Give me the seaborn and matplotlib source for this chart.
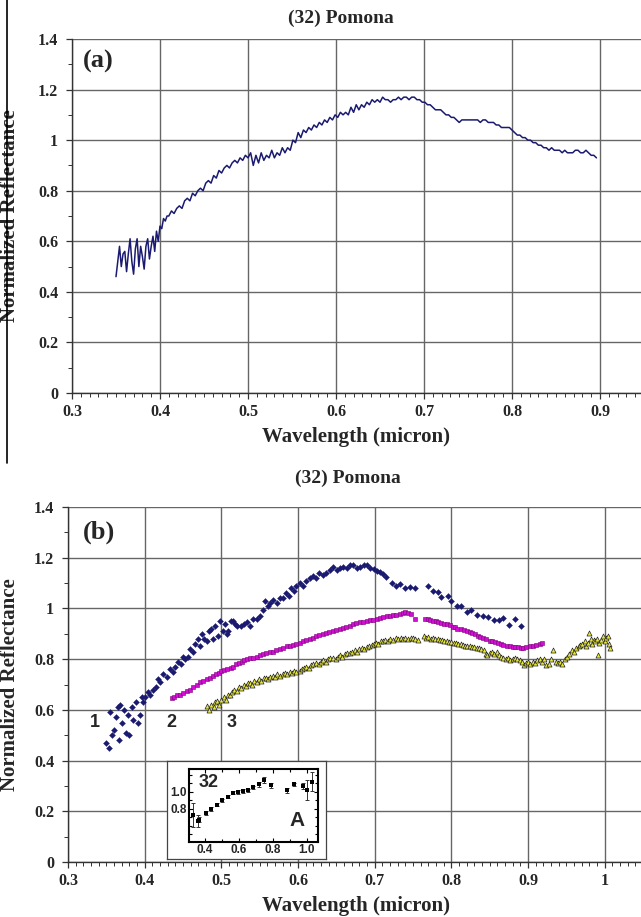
import numpy as np
import pandas as pd
import matplotlib
matplotlib.use("Agg")
import matplotlib.pyplot as plt
import seaborn as sns
from matplotlib.ticker import MultipleLocator, FuncFormatter
from matplotlib.lines import Line2D

# ---------------- data ----------------
title = "(32) Pomona"
xlabel = "Wavelength (micron)"
ylabel = "Normalized Reflectance"

top_wl = [0.350, 0.352, 0.354, 0.356, 0.358, 0.360, 0.362, 0.364, 0.366, 0.368, 0.370, 0.372, 0.374, 0.376,
          0.378, 0.380, 0.382, 0.384, 0.386, 0.388, 0.390, 0.392, 0.394, 0.396, 0.398, 0.400, 0.402, 0.404,
          0.406, 0.408, 0.410, 0.413, 0.416, 0.419, 0.422, 0.425, 0.428, 0.431, 0.434, 0.437, 0.440, 0.443,
          0.446, 0.449, 0.452, 0.455, 0.458, 0.461, 0.464, 0.467, 0.470, 0.473, 0.476, 0.479, 0.482, 0.485,
          0.488, 0.491, 0.494, 0.497, 0.500, 0.503, 0.506, 0.509, 0.512, 0.515, 0.518, 0.521, 0.524, 0.527,
          0.530, 0.533, 0.536, 0.539, 0.542, 0.545, 0.548, 0.551, 0.554, 0.557, 0.560, 0.563, 0.566, 0.569,
          0.572, 0.575, 0.578, 0.581, 0.584, 0.587, 0.590, 0.593, 0.596, 0.599, 0.602, 0.605, 0.608, 0.611,
          0.614, 0.617, 0.620, 0.623, 0.626, 0.629, 0.632, 0.635, 0.638, 0.641, 0.644, 0.647, 0.650, 0.653,
          0.656, 0.659, 0.662, 0.665, 0.668, 0.671, 0.674, 0.677, 0.680, 0.683, 0.686, 0.689, 0.692, 0.695,
          0.698, 0.701, 0.704, 0.707, 0.710, 0.713, 0.716, 0.719, 0.722, 0.725, 0.728, 0.731, 0.734, 0.737,
          0.740, 0.743, 0.746, 0.749, 0.752, 0.755, 0.758, 0.761, 0.764, 0.767, 0.770, 0.773, 0.776, 0.779,
          0.782, 0.785, 0.788, 0.791, 0.794, 0.797, 0.800, 0.803, 0.806, 0.809, 0.812, 0.815, 0.818, 0.821,
          0.824, 0.827, 0.830, 0.833, 0.836, 0.839, 0.842, 0.845, 0.848, 0.851, 0.854, 0.857, 0.860, 0.863,
          0.866, 0.869, 0.872, 0.875, 0.878, 0.881, 0.884, 0.887, 0.890, 0.893, 0.896]
top_refl = [0.46, 0.52, 0.58, 0.50, 0.55, 0.56, 0.48, 0.55, 0.61, 0.52, 0.47, 0.57, 0.61, 0.50,
            0.58, 0.54, 0.49, 0.58, 0.61, 0.53, 0.58, 0.62, 0.56, 0.64, 0.60, 0.66, 0.65, 0.69,
            0.68, 0.70, 0.70, 0.72, 0.71, 0.73, 0.74, 0.73, 0.76, 0.77, 0.76, 0.79, 0.78, 0.80,
            0.81, 0.80, 0.83, 0.84, 0.83, 0.86, 0.85, 0.88, 0.87, 0.89, 0.90, 0.89, 0.91, 0.92,
            0.91, 0.93, 0.92, 0.94, 0.93, 0.95, 0.90, 0.94, 0.91, 0.95, 0.92, 0.94, 0.93, 0.96,
            0.93, 0.95, 0.94, 0.97, 0.95, 0.97, 0.96, 1.00, 0.99, 1.03, 1.01, 1.04, 1.03, 1.05,
            1.04, 1.06, 1.05, 1.07, 1.06, 1.08, 1.07, 1.09, 1.08, 1.10, 1.09, 1.11, 1.10, 1.11,
            1.10, 1.13, 1.11, 1.14, 1.12, 1.14, 1.13, 1.15, 1.14, 1.16, 1.15, 1.16, 1.15, 1.17,
            1.16, 1.16, 1.15, 1.16, 1.16, 1.17, 1.16, 1.17, 1.17, 1.16, 1.17, 1.17, 1.16, 1.16,
            1.15, 1.15, 1.14, 1.14, 1.13, 1.12, 1.12, 1.12, 1.11, 1.10, 1.10, 1.09, 1.09, 1.08,
            1.07, 1.08, 1.08, 1.08, 1.08, 1.08, 1.08, 1.08, 1.07, 1.08, 1.08, 1.07, 1.07, 1.07,
            1.06, 1.06, 1.05, 1.05, 1.05, 1.05, 1.04, 1.03, 1.02, 1.02, 1.01, 1.01, 1.00, 1.00,
            0.99, 0.99, 0.98, 0.98, 0.97, 0.97, 0.96, 0.97, 0.96, 0.96, 0.96, 0.95, 0.96, 0.95,
            0.95, 0.95, 0.96, 0.96, 0.95, 0.95, 0.96, 0.95, 0.94, 0.94, 0.93]

s1_wl = [0.350, 0.353, 0.355, 0.357, 0.360, 0.362, 0.365, 0.367, 0.368, 0.370, 0.373, 0.375, 0.378, 0.380,
         0.383, 0.385, 0.389, 0.391, 0.394, 0.396, 0.398, 0.400, 0.404, 0.407, 0.411, 0.415, 0.418, 0.420,
         0.424, 0.429, 0.433, 0.437, 0.440, 0.443, 0.447, 0.450, 0.453, 0.456, 0.459, 0.463, 0.466, 0.469,
         0.472, 0.475, 0.478, 0.481, 0.484, 0.487, 0.489, 0.492, 0.496, 0.498, 0.502, 0.505, 0.507, 0.509,
         0.512, 0.515, 0.518, 0.521, 0.525, 0.529, 0.533, 0.537, 0.541, 0.546, 0.550, 0.554, 0.557, 0.561,
         0.564, 0.568, 0.572, 0.576, 0.580, 0.584, 0.588, 0.591, 0.595, 0.598, 0.602, 0.606, 0.610, 0.615,
         0.620, 0.624, 0.628, 0.633, 0.637, 0.642, 0.646, 0.651, 0.655, 0.659, 0.664, 0.668, 0.672, 0.677,
         0.681, 0.686, 0.690, 0.694, 0.699, 0.703, 0.707, 0.711, 0.715, 0.722, 0.728, 0.733, 0.739, 0.746,
         0.752, 0.769, 0.776, 0.782, 0.787, 0.795, 0.800, 0.807, 0.813, 0.820, 0.826, 0.833, 0.841, 0.848,
         0.855, 0.862, 0.868, 0.875, 0.883, 0.891]
s1_refl = [0.47, 0.45, 0.59, 0.50, 0.52, 0.57, 0.61, 0.48, 0.62, 0.55, 0.60, 0.51, 0.58, 0.50,
           0.61, 0.56, 0.63, 0.55, 0.58, 0.65, 0.63, 0.65, 0.67, 0.66, 0.68, 0.69, 0.72, 0.71,
           0.74, 0.73, 0.76, 0.75, 0.77, 0.79, 0.78, 0.81, 0.80, 0.81, 0.84, 0.83, 0.86, 0.88,
           0.85, 0.90, 0.88, 0.87, 0.91, 0.92, 0.88, 0.93, 0.89, 0.95, 0.91, 0.94, 0.90, 0.91,
           0.95, 0.95, 0.94, 0.93, 0.93, 0.94, 0.945, 0.93, 0.96, 0.957, 0.97, 0.995, 1.03, 1.01,
           1.02, 1.035, 1.02, 1.04, 1.04, 1.06, 1.05, 1.08, 1.07, 1.09, 1.10, 1.09, 1.11, 1.12,
           1.127, 1.12, 1.14, 1.13, 1.14, 1.15, 1.165, 1.15, 1.16, 1.165, 1.16, 1.17, 1.17, 1.16,
           1.165, 1.17, 1.17, 1.16, 1.155, 1.147, 1.143, 1.134, 1.125, 1.10, 1.088, 1.095, 1.08, 1.083,
           1.08, 1.087, 1.067, 1.063, 1.047, 1.05, 1.03, 1.01, 1.01, 0.985, 0.995, 0.975, 0.97, 0.967,
           0.953, 0.953, 0.963, 0.935, 0.957, 0.932]

s2_wl = [0.435, 0.438, 0.442, 0.446, 0.450, 0.455, 0.459, 0.463, 0.468, 0.472, 0.476, 0.481, 0.485, 0.489,
         0.493, 0.497, 0.500, 0.504, 0.508, 0.512, 0.515, 0.519, 0.523, 0.527, 0.530, 0.533, 0.537, 0.541,
         0.546, 0.550, 0.554, 0.558, 0.563, 0.567, 0.571, 0.576, 0.580, 0.585, 0.589, 0.593, 0.598, 0.602,
         0.607, 0.611, 0.615, 0.620, 0.624, 0.628, 0.633, 0.637, 0.641, 0.646, 0.650, 0.655, 0.659, 0.663,
         0.668, 0.672, 0.676, 0.681, 0.685, 0.690, 0.694, 0.698, 0.703, 0.707, 0.711, 0.716, 0.720, 0.724,
         0.728, 0.733, 0.737, 0.740, 0.744, 0.748, 0.752, 0.765, 0.769, 0.772, 0.776, 0.780, 0.783, 0.787,
         0.791, 0.794, 0.798, 0.802, 0.805, 0.808, 0.812, 0.816, 0.820, 0.824, 0.827, 0.831, 0.835, 0.838,
         0.841, 0.845, 0.850, 0.853, 0.857, 0.861, 0.865, 0.868, 0.872, 0.876, 0.880, 0.883, 0.887, 0.891,
         0.894, 0.898, 0.903, 0.907, 0.911, 0.915, 0.918]
s2_refl = [0.646, 0.650, 0.660, 0.660, 0.665, 0.673, 0.680, 0.690, 0.700, 0.710, 0.715, 0.720, 0.727, 0.735,
           0.740, 0.745, 0.752, 0.757, 0.760, 0.765, 0.770, 0.780, 0.785, 0.790, 0.795, 0.800, 0.803, 0.806,
           0.810, 0.815, 0.820, 0.823, 0.827, 0.830, 0.835, 0.840, 0.845, 0.850, 0.853, 0.857, 0.861, 0.865,
           0.870, 0.875, 0.880, 0.885, 0.890, 0.895, 0.900, 0.905, 0.908, 0.911, 0.914, 0.917, 0.922, 0.927,
           0.932, 0.937, 0.941, 0.945, 0.948, 0.950, 0.953, 0.956, 0.960, 0.963, 0.966, 0.969, 0.970, 0.973,
           0.976, 0.980, 0.983, 0.985, 0.983, 0.978, 0.960, 0.960, 0.957, 0.955, 0.952, 0.950, 0.947, 0.944,
           0.940, 0.937, 0.933, 0.928, 0.925, 0.920, 0.917, 0.913, 0.910, 0.906, 0.903, 0.900, 0.893, 0.888,
           0.885, 0.880, 0.873, 0.870, 0.867, 0.865, 0.860, 0.857, 0.853, 0.850, 0.848, 0.847, 0.846, 0.845,
           0.845, 0.847, 0.850, 0.853, 0.857, 0.861, 0.865]

s3_wl = [0.481, 0.484, 0.487, 0.490, 0.492, 0.494, 0.497, 0.500, 0.503, 0.506, 0.509, 0.511, 0.514, 0.517,
         0.520, 0.523, 0.526, 0.529, 0.532, 0.535, 0.537, 0.540, 0.543, 0.546, 0.549, 0.552, 0.555, 0.558,
         0.561, 0.564, 0.567, 0.570, 0.573, 0.576, 0.580, 0.583, 0.586, 0.589, 0.592, 0.595, 0.598, 0.602,
         0.605, 0.608, 0.611, 0.614, 0.617, 0.620, 0.624, 0.627, 0.630, 0.633, 0.636, 0.639, 0.642, 0.646,
         0.649, 0.652, 0.655, 0.658, 0.661, 0.664, 0.668, 0.671, 0.674, 0.677, 0.680, 0.683, 0.686, 0.690,
         0.693, 0.696, 0.699, 0.702, 0.705, 0.708, 0.711, 0.714, 0.717, 0.720, 0.724, 0.728, 0.731, 0.734,
         0.737, 0.740, 0.744, 0.747, 0.750, 0.753, 0.757, 0.764, 0.767, 0.770, 0.773, 0.776, 0.779, 0.782,
         0.785, 0.788, 0.791, 0.794, 0.797, 0.800, 0.803, 0.806, 0.809, 0.812, 0.815, 0.818, 0.821, 0.824,
         0.827, 0.830, 0.833, 0.836, 0.839, 0.842, 0.845, 0.847, 0.850, 0.853, 0.856, 0.859, 0.862, 0.865,
         0.868, 0.871, 0.874, 0.877, 0.880, 0.883, 0.886, 0.889, 0.892, 0.895, 0.897, 0.900, 0.903, 0.906,
         0.909, 0.912, 0.915, 0.918, 0.921, 0.924, 0.927, 0.930, 0.933, 0.936, 0.939, 0.942, 0.945, 0.948,
         0.951, 0.954, 0.957, 0.960, 0.963, 0.966, 0.968, 0.971, 0.974, 0.976, 0.978, 0.980, 0.982, 0.984,
         0.986, 0.988, 0.990, 0.991, 0.993, 0.995, 0.998, 1.000, 1.002, 1.004, 1.006, 1.007]
s3_refl = [0.614, 0.600, 0.620, 0.610, 0.630, 0.633, 0.620, 0.640, 0.650, 0.640, 0.660, 0.660, 0.670, 0.680,
           0.675, 0.690, 0.685, 0.700, 0.695, 0.705, 0.707, 0.700, 0.715, 0.710, 0.720, 0.715, 0.725, 0.727,
           0.720, 0.730, 0.735, 0.730, 0.740, 0.735, 0.740, 0.745, 0.740, 0.750, 0.745, 0.755, 0.750, 0.752,
           0.760, 0.765, 0.770, 0.765, 0.775, 0.780, 0.785, 0.780, 0.790, 0.795, 0.790, 0.800, 0.805, 0.806,
           0.800, 0.810, 0.815, 0.810, 0.820, 0.825, 0.826, 0.830, 0.835, 0.830, 0.840, 0.845, 0.840, 0.846,
           0.850, 0.855, 0.860, 0.865, 0.860, 0.870, 0.870, 0.875, 0.870, 0.880, 0.875, 0.885, 0.880, 0.885,
           0.880, 0.885, 0.880, 0.885, 0.885, 0.880, 0.875, 0.890, 0.885, 0.888, 0.880, 0.885, 0.880, 0.878,
           0.877, 0.875, 0.870, 0.872, 0.868, 0.867, 0.865, 0.862, 0.860, 0.860, 0.855, 0.853, 0.850, 0.852,
           0.848, 0.847, 0.845, 0.845, 0.840, 0.835, 0.820, 0.815, 0.825, 0.830, 0.822, 0.830, 0.815, 0.810,
           0.805, 0.800, 0.805, 0.795, 0.800, 0.805, 0.800, 0.795, 0.790, 0.775, 0.785, 0.790, 0.780, 0.790,
           0.785, 0.795, 0.800, 0.790, 0.800, 0.775, 0.780, 0.800, 0.838, 0.790, 0.785, 0.790, 0.780, 0.800,
           0.810, 0.820, 0.837, 0.830, 0.845, 0.850, 0.857, 0.860, 0.870, 0.850, 0.865, 0.905, 0.880, 0.860,
           0.877, 0.870, 0.880, 0.818, 0.865, 0.875, 0.890, 0.870, 0.885, 0.890, 0.860, 0.845]

curve_labels = ["1", "2", "3"]
curve_label_x = [0.335, 0.435, 0.513]
curve_label_y = [0.55, 0.55, 0.55]

inset_wl = [0.331, 0.357, 0.366, 0.404, 0.435, 0.469, 0.498, 0.533, 0.563, 0.592, 0.626, 0.655, 0.684,
            0.716, 0.747, 0.786, 0.880, 0.924, 0.975, 1.002, 1.030]
inset_refl = [0.73, 0.66, 0.67, 0.75, 0.80, 0.85, 0.90, 0.945, 0.99, 1.00, 1.01, 1.02, 1.055,
              1.09, 1.14, 1.08, 1.02, 1.09, 1.07, 1.02, 1.12]
inset_err = [0.14, 0.07, 0.03, 0.02, 0.02, 0.02, 0.02, 0.02, 0.02, 0.02, 0.02, 0.02, 0.02,
             0.03, 0.03, 0.03, 0.03, 0.02, 0.03, 0.12, 0.11]

# ---------------- style ----------------
sns.set_theme(style="white")
plt.rcParams["font.family"] = ["Liberation Serif", "DejaVu Serif"]
plt.rcParams["font.weight"] = "bold"
SANS = ["Liberation Sans", "DejaVu Sans"]

NAVY = "#1a1a70"
MAGENTA = "#d010d0"
YELLOW = "#e8e83a"
GRID = "#666666"

W, H = 641, 917
fig = plt.figure(figsize=(W / 100, H / 100), dpi=100)
fig.patch.set_facecolor("white")


def fmt(v, pos):
    return f"{round(v, 2):g}"


def style_axes(ax, xmax):
    ax.set_xlim(0.3, xmax)
    ax.set_ylim(0, 1.4)
    ax.xaxis.set_major_locator(MultipleLocator(0.1))
    ax.xaxis.set_minor_locator(MultipleLocator(0.01))
    ax.yaxis.set_major_locator(MultipleLocator(0.2))
    ax.yaxis.set_minor_locator(MultipleLocator(0.1))
    ax.xaxis.set_major_formatter(FuncFormatter(fmt))
    ax.yaxis.set_major_formatter(FuncFormatter(fmt))
    ax.grid(True, which="major", color=GRID, lw=1.0)
    ax.grid(False, which="minor")
    ax.set_axisbelow(True)
    for s in ["top", "right"]:
        ax.spines[s].set_visible(False)
    for s in ["left", "bottom"]:
        ax.spines[s].set_color("#333333")
        ax.spines[s].set_linewidth(1.0)
    ax.tick_params(which="major", direction="out", length=4, width=0.9, color="#333333",
                   labelsize=11.5)
    ax.tick_params(axis="y", which="major", pad=6)
    ax.tick_params(axis="x", which="major", pad=4)
    ax.tick_params(which="minor", direction="out", length=3, width=0.7, color="#333333")
    ax.tick_params(axis="both", which="both", bottom=True, left=True)
    for lab in ax.get_xticklabels() + ax.get_yticklabels():
        lab.set_fontweight("bold")
    ax.set_xlabel(xlabel, fontsize=15, fontweight="bold", labelpad=5)
    ax.set_ylabel(ylabel, fontsize=15, fontweight="bold")
    ax.set_facecolor("white")


# ---------------- panel (a) ----------------
ax1 = fig.add_axes([72 / W, 1 - 393 / H, 569 / W, 354 / H])
df_top = pd.DataFrame({"wl": top_wl, "refl": top_refl})
sns.lineplot(data=df_top, x="wl", y="refl", ax=ax1, color=NAVY, lw=1.1,
             sort=False, estimator=None)
style_axes(ax1, 0.9466)
ax1.yaxis.set_label_coords(-(72 - 20) / 569, 0.5)
ax1.text(0.33, 1.31, "(a)", fontsize=19, fontweight="bold", ha="center", va="center")
fig.text(341 / W, 1 - 18 / H, title, fontsize=14, fontweight="bold", ha="center", va="center")

# left border line of panel (a)
fig.add_artist(Line2D([7 / W, 7 / W], [1.0, 1 - 463 / H], color="black", lw=1.2,
                      transform=fig.transFigure))

# ---------------- panel (b) ----------------
ax2 = fig.add_axes([68 / W, 1 - 862 / H, 575 / W, 355 / H])
df1 = pd.DataFrame({"wl": s1_wl, "refl": s1_refl})
df2 = pd.DataFrame({"wl": s2_wl, "refl": s2_refl})
df3 = pd.DataFrame({"wl": s3_wl, "refl": s3_refl})
sns.scatterplot(data=df3, x="wl", y="refl", ax=ax2, marker="^", s=13, color=YELLOW,
                edgecolor="#222222", linewidth=0.5, zorder=3)
sns.scatterplot(data=df2, x="wl", y="refl", ax=ax2, marker="s", s=6, color=MAGENTA,
                edgecolor="#7a007a", linewidth=0.4, zorder=4)
sns.scatterplot(data=df1, x="wl", y="refl", ax=ax2, marker="D", s=9, color=NAVY,
                edgecolor=NAVY, linewidth=0.3, zorder=5)
style_axes(ax2, 1.05)
ax2.yaxis.set_label_coords(-(68 - 20) / 575, 0.5)
ax2.text(0.34, 1.30, "(b)", fontsize=19, fontweight="bold", ha="center", va="center")
for lab, lx, ly in zip(curve_labels, curve_label_x, curve_label_y):
    ax2.text(lx, ly, lab, fontsize=13, fontweight="bold", ha="center", va="center", family=SANS)
fig.text(348 / W, 1 - 478 / H, title, fontsize=14, fontweight="bold", ha="center", va="center")

# ---------------- inset ----------------
box = fig.add_axes([167 / W, 1 - 859 / H, 159 / W, 98 / H])
box.set_xticks([])
box.set_yticks([])
box.set_facecolor("white")
for s in box.spines.values():
    s.set_color("#444444")
    s.set_linewidth(0.9)

axi = fig.add_axes([189 / W, 1 - 842 / H, 129 / W, 73 / H])
axi.set_facecolor("white")
axi.errorbar(inset_wl, inset_refl, yerr=inset_err, fmt="none", ecolor="#333333",
             elinewidth=0.7, capsize=1.5, capthick=0.7, zorder=2)
sns.scatterplot(x=inset_wl, y=inset_refl, ax=axi, marker="s", s=5, color="black",
                edgecolor="black", linewidth=0, zorder=3)
axi.set_xlim(0.306, 1.065)
axi.set_ylim(0.41, 1.27)
axi.xaxis.set_major_locator(MultipleLocator(0.2))
axi.xaxis.set_minor_locator(MultipleLocator(0.1))
axi.set_yticks([0.8, 1.0])
axi.yaxis.set_minor_locator(MultipleLocator(0.1))
axi.xaxis.set_major_formatter(FuncFormatter(lambda v, p: f"{v:.1f}"))
axi.yaxis.set_major_formatter(FuncFormatter(lambda v, p: f"{v:.1f}"))
axi.tick_params(which="both", direction="in", top=True, right=True, bottom=True, left=True,
                color="black", width=0.8)
axi.tick_params(which="major", length=3, labelsize=8.5, pad=1.5)
axi.tick_params(which="minor", length=2)
for lab in axi.get_xticklabels() + axi.get_yticklabels():
    lab.set_fontweight("bold")
    lab.set_family(SANS)
for s in axi.spines.values():
    s.set_color("black")
    s.set_linewidth(1.5)
axi.set_xlabel("")
axi.set_ylabel("")
axi.grid(False)
axi.text(0.42, 1.11, "32", fontsize=13, fontweight="bold", ha="center", va="center", family=SANS)
axi.text(0.94, 0.66, "A", fontsize=15, fontweight="bold", ha="center", va="center", family=SANS)

fig.savefig("out.png", dpi=100)
